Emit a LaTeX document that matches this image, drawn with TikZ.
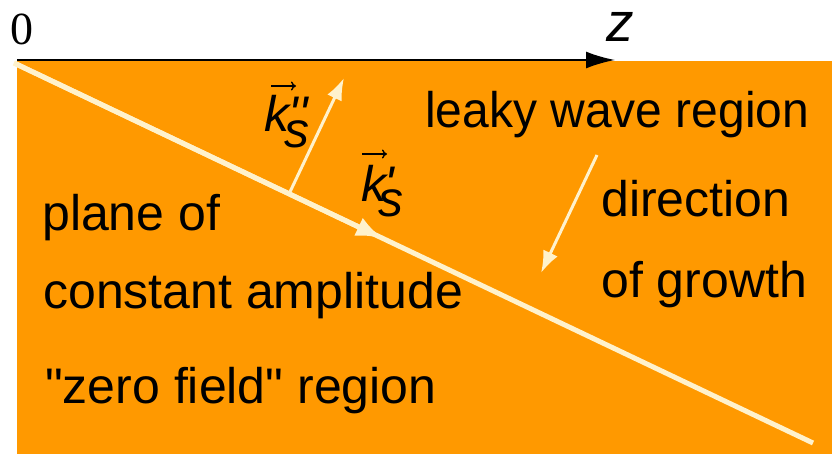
\documentclass[tikz,border=0pt]{standalone}
\usepackage{fontspec}
\setmainfont{Liberation Sans}
\newfontfamily\myserif{Liberation Serif}
\usetikzlibrary{arrows.meta,calc}
\definecolor{bgorange}{RGB}{255,153,0}
\definecolor{cream}{RGB}{255,242,204}
\begin{document}
\begin{tikzpicture}[x=1pt,y=-1pt,
  lbl/.style={anchor=base west, inner sep=0pt, font=\fontsize{50}{60}\selectfont},
  klbl/.style={anchor=base west, inner sep=0pt, font=\itshape\fontsize{50}{60}\selectfont},
  wline/.style={draw=cream, line width=5pt},
  warrow/.style={draw=cream, line width=3pt, -{Latex[length=22pt,width=16pt]}},
  vecarrow/.style={draw=black, line width=1.4pt, -{To[length=5pt,width=9pt]}},
  ]
\useasboundingbox (0,0) rectangle (832,454);
\fill[bgorange] (17,61) rectangle (832,454);
% axis
\coordinate (o) at (17,60);
\coordinate (zend) at (615,60);
\draw[line width=2pt, -{Latex[length=29pt,width=17pt]}] (o) -- (zend);
\node[anchor=base west, inner sep=0pt, font=\myserif\fontsize{46}{50}\selectfont] (origin) at (10,45) {0};
\node[klbl, font=\itshape\fontsize{55}{60}\selectfont] (zlab) at (606,42) {z};
% plane of constant amplitude
\coordinate (a) at (14,63);
\coordinate (b) at (813,443);
\coordinate (m) at ($(a)!0.4618!(b)$);
\draw[wline] (a) -- (b);
\draw[wline, -{Latex[length=27pt,width=20pt]}] (a) -- (m);
% k'' arrow
\coordinate (kb) at (289,194);
\coordinate (kt) at (344,78);
\draw[warrow] (kb) -- (kt);
% growth arrow
\coordinate (gs) at (597,155);
\coordinate (ge) at (541,273);
\draw[warrow] (gs) -- (ge);
% k labels
\node[klbl] (kpp) at (264,132) {k\rlap{\kern-5pt\raisebox{-16pt}{s}}\kern-1pt\textquotesingle\kern1pt\textquotesingle};
\node[klbl] (kp) at (361,202) {k\rlap{\kern-8pt\raisebox{-15pt}{s}}\kern-2pt\textquotesingle};
\coordinate (v1a) at (271,86);
\coordinate (v1b) at (296,86);
\draw[vecarrow] (v1a) -- (v1b);
\coordinate (v2a) at (362,154);
\coordinate (v2b) at (387,154);
\draw[vecarrow] (v2a) -- (v2b);
% texts
\node[lbl] (leaky) at (425,128) {\addfontfeature{FakeStretch=0.96}leaky wave region};
\node[lbl] (dir) at (601,217) {direction};
\node[lbl] (growth) at (601,297) {of growth};
\node[lbl] (plane) at (42,231) {plane of};
\node[lbl] (const) at (43,308) {constant amplitude};
\node[lbl] (zerof) at (45,403) {\textquotedbl zero field\textquotedbl{} region};
\end{tikzpicture}
\end{document}
